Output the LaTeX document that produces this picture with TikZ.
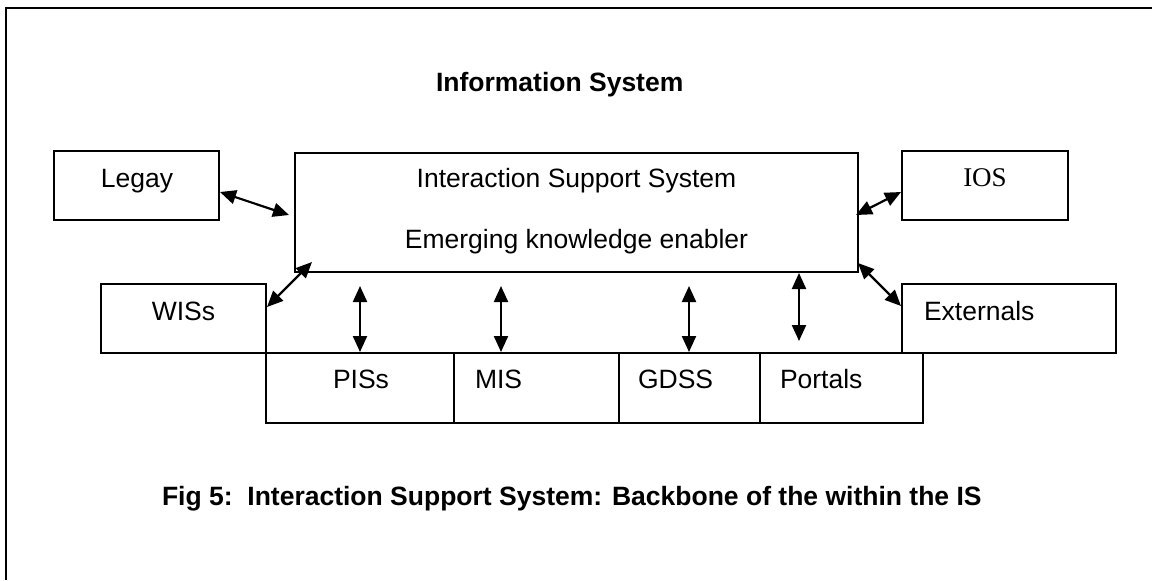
\documentclass[tikz,border=0pt]{standalone}
\usepackage{fontspec}
\setmainfont{Liberation Sans}
\newfontfamily\tnr{Liberation Serif}
\usetikzlibrary{arrows.meta,calc}
\begin{document}
\begin{tikzpicture}[x=0.5pt,y=-0.5pt,
  box/.style={draw=black,line width=1.1pt,inner sep=0pt,outer sep=0pt,minimum width=#1},
  txt/.style={inner sep=0pt,outer sep=0pt,font=\fontsize{13.25}{15}\selectfont},
  btxt/.style={inner sep=0pt,outer sep=0pt,font=\fontsize{13.25}{15}\selectfont\bfseries},
  dbl/.style={{Triangle[length=8pt,width=7pt]}-{Triangle[length=8pt,width=7pt]},line width=1.1pt}]
\useasboundingbox (0,0) rectangle (1152,580);
% frame
\draw[line width=1.3pt] (1152,8) -- (6,8) -- (6,580);
% boxes
\node[box=82.5pt,minimum height=34.5pt] (legay) at (136.5,185.5) {};
\node[box=281.5pt,minimum height=59.5pt] (iss) at (576.5,212.5) {};
\node[box=83pt,minimum height=34.5pt] (ios) at (985,185.5) {};
\node[box=82.5pt,minimum height=34.5pt] (wis) at (183.5,318.5) {};
\node[box=107pt,minimum height=34.5pt] (ext) at (1009,318.5) {};
\node[box=94pt,minimum height=35pt] (pis) at (360,388) {};
\node[box=82.5pt,minimum height=35pt] (mis) at (536.5,388) {};
\node[box=70.5pt,minimum height=35pt] (gdss) at (689.5,388) {};
\node[box=81.5pt,minimum height=35pt] (portals) at (841.5,388) {};
% texts
\node[btxt,anchor=base west] (title) at (436,91) {Information System};
\node[txt,anchor=base] (isst) at (576.5,187) {Interaction Support System};
\node[txt,anchor=base] (iss2) at (576.5,248) {Emerging knowledge enabler};
\node[txt,anchor=base] (legayt) at (137,187) {Legay};
\node[inner sep=0pt,outer sep=0pt,font=\tnr\fontsize{13.5}{15}\selectfont,anchor=base] (iost) at (985,186) {IOS};
\node[txt,anchor=base] (wist) at (183.5,320) {WISs};
\node[txt,anchor=base west] (extt) at (924,320) {Externals};
\node[txt,anchor=base west] (pist) at (333,388) {PISs};
\node[txt,anchor=base west] (mist) at (475,388) {MIS};
\node[txt,anchor=base west] (gdsst) at (638,388) {GDSS};
\node[txt,anchor=base west] (portalst) at (780,388) {Portals};
\node[btxt,anchor=base west] (caption) at (162,505) {Fig 5:\ \ Interaction Support System: Backbone of the within the IS};
% connectors
\draw[dbl] ($(legay.east)+(1,6.5)$) -- ($(iss.west)+(-6,2.5)$);
\draw[dbl] ($(wis.east)+(1,-11.5)$) -- ($(iss.south west)+(17,-10)$);
\draw[dbl] ($(iss.east)+(-2,2.5)$) -- ($(ios.west)+(-1,6.5)$);
\draw[dbl] ($(iss.south east)+(0,-9)$) -- ($(ext.west)+(-1,-12.5)$);
\draw[dbl] ($(pis.north)+(0,-67)$) -- ($(pis.north)+(0,-1)$);
\draw[dbl] ($(mis.north west)+(47,-67)$) -- ($(mis.north west)+(47,-1)$);
\draw[dbl] ($(gdss.north west)+(70,-67)$) -- ($(gdss.north west)+(70,-1)$);
\draw[dbl] ($(portals.north west)+(39,-80)$) -- ($(portals.north west)+(39,-12)$);
\end{tikzpicture}
\end{document}
